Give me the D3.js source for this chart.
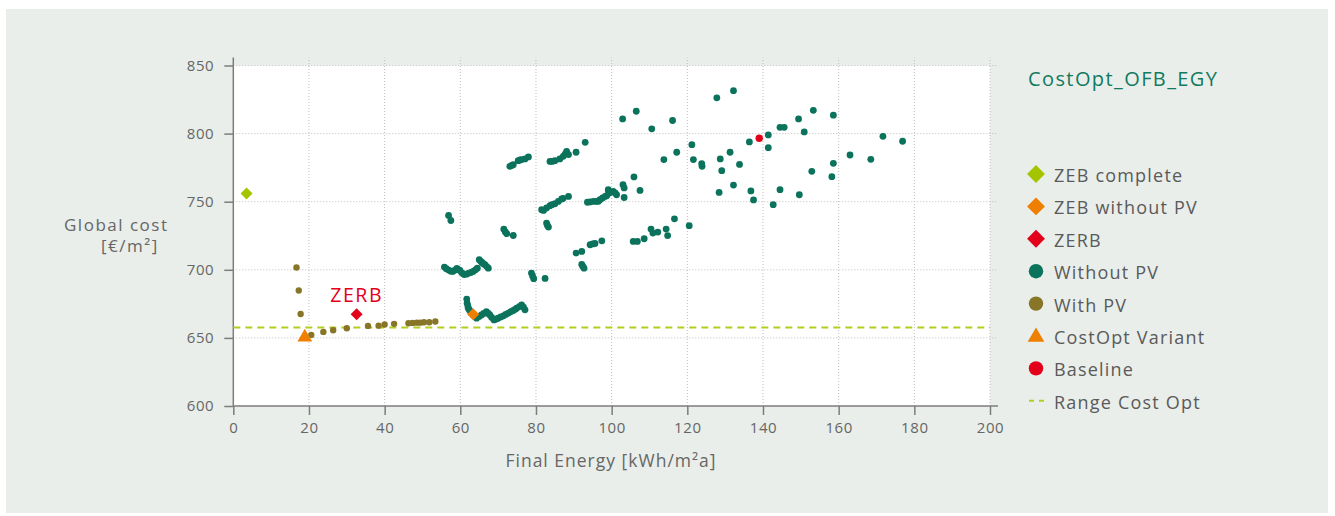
<!DOCTYPE html>
<html>
<head>
<meta charset="utf-8">
<script src="https://cdn.jsdelivr.net/npm/d3@7"></script>
<style>
  html, body { margin: 0; padding: 0; background: #ffffff; }
  svg { display: block; }
  text { font-family: "Open Sans", "Noto Sans", sans-serif; }
</style>
</head>
<body>
<svg id="chart" width="1335" height="516"></svg>
<script>
// Final energy [kWh/m²a] and global cost [€/m²] per variant
const withoutPV = [
  [56.9,739.9],[57.5,736.2],
  [55.8,702.0],[56.3,700.8],[56.9,699.8],[57.5,699.0],[58.0,698.8],[58.6,699.8],[59.1,701.0],[59.5,700.2],
  [59.9,699.5],[60.4,697.8],[61.0,696.5],[61.6,696.8],[62.1,697.4],[62.8,698.0],[63.4,698.8],[64.0,700.0],
  [64.5,701.2],[65.0,707.4],[65.4,706.2],[65.7,705.4],[66.1,704.5],[66.5,703.7],[67.0,702.4],[67.4,701.2],
  [61.7,678.5],[61.8,675.5],[62.0,673.5],[62.1,671.8],[62.4,670.5],[62.7,669.3],[63.0,668.0],[63.4,666.9],
  [63.9,665.6],[64.3,664.5],[65.0,665.8],[65.6,666.9],[66.2,668.0],[66.9,669.3],[67.4,668.0],[67.8,666.9],
  [68.3,665.0],[68.9,663.2],[69.5,663.8],[70.0,664.5],[70.7,665.4],[71.4,666.2],[72.0,667.2],[72.7,668.2],
  [73.3,669.2],[74.0,670.1],[74.5,671.0],[74.9,671.8],[75.6,673.0],[76.2,674.3],[76.7,672.5],[77.1,670.6],
  [78.8,697.6],[79.1,695.5],[79.4,693.5],[82.4,693.7],
  [71.5,729.8],[71.9,727.8],[72.3,726.5],[74.0,725.2],
  [73.1,776.0],[73.6,776.6],[74.0,777.2],[75.3,780.1],[75.8,780.6],[76.2,780.9],[77.1,781.4],[78.0,782.9],
  [81.5,744.1],[82.0,743.6],[82.8,745.4],[83.7,747.1],[84.2,747.8],[85.0,748.5],[85.9,750.2],[86.8,752.0],
  [87.2,752.5],[88.6,753.9],
  [82.8,734.3],[83.0,732.8],[83.3,731.4],
  [83.7,779.6],[84.3,779.6],[85.0,780.1],[86.3,781.4],[87.2,783.3],[87.7,785.0],[88.1,787.0],[88.6,784.6],
  [90.6,786.3],[93.0,793.6],
  [90.6,712.3],[92.1,713.5],[94.3,718.4],[95.0,719.0],[95.6,719.3],[97.4,721.3],
  [92.1,703.9],[92.4,702.5],[92.7,701.2],
  [93.6,749.6],[94.3,749.8],[95.2,750.2],[96.1,750.2],[96.5,750.4],[96.9,751.5],[97.6,752.7],[98.3,753.9],
  [98.7,754.4],[99.1,758.8],[99.2,757.5],[99.4,756.4],[100.4,757.6],[100.9,756.4],[101.3,755.1],[103.0,762.5],
  [103.3,760.1],[103.3,753.1],[105.9,768.2],[107.5,758.3],
  [102.9,810.8],[106.5,816.4],[110.6,803.5],[116.1,809.6],
  [105.7,720.8],[106.8,720.8],[108.6,722.8],[110.4,729.9],[110.9,727.0],[112.2,727.7],[114.4,729.9],[114.8,725.1],
  [116.6,737.4],[120.5,732.4],
  [113.8,780.9],[117.2,786.3],[121.2,791.9],[121.6,780.9],[123.8,777.9],[123.9,776.0],
  [127.8,826.3],[132.2,831.5],[128.7,781.4],[131.3,786.3],[129.1,772.8],[133.8,777.4],[132.2,762.2],[128.4,756.8],
  [136.4,793.9],[136.8,757.9],[137.5,751.3],[141.4,799.0],[141.4,789.7],[144.5,804.6],[145.6,804.6],[149.4,810.8],
  [150.9,801.2],[153.3,817.1],[158.6,813.5],[171.7,798.0],[176.9,794.4],[163.0,784.3],[168.5,781.1],[158.6,778.2],
  [152.9,772.3],[158.2,768.4],[144.5,758.8],[149.6,755.1],[142.7,747.8]
];
const withPV = [
  [16.7,701.7],[17.3,684.8],[17.8,667.6],[20.6,652.2],[23.8,654.4],[26.4,655.6],[30.0,657.1],[35.6,658.8],
  [38.4,659.0],[40.0,659.8],[42.5,660.3],[46.3,660.8],[47.4,661.0],[48.5,661.2],[49.4,661.2],[50.4,661.5],
  [51.8,661.5],[53.4,662.0]
];
const zebComplete = [[3.5,756.0]];
const zebWithoutPV = [[63.4,667.4]];
const zerb = [[32.6,667.4]];
const costOptVariant = [[18.9,650.5]];
const baseline = [[139.0,796.6]];
const rangeCostOpt = 657.6;

const xTicks = [0,20,40,60,80,100,120,140,160,180,200];
const yTicks = [600,650,700,750,800,850];
const legendLabels = ["ZEB complete","ZEB without PV","ZERB","Without PV","With PV","CostOpt Variant","Baseline","Range Cost Opt"];
const chartTitle = "CostOpt_OFB_EGY";

const C = {
  panel: "#e9eeea",
  teal: "#0b735b",
  olive: "#877628",
  lime: "#a5c400",
  orange: "#ee7f00",
  red: "#e2001a",
  dash: "#b2cf1d",
  axis: "#7d7d7d",
  grid: "#bdbdbd",
  text: "#666666"
};

const svg = d3.select("#chart");
svg.append("rect").attr("x",6).attr("y",9).attr("width",1322).attr("height",504).attr("fill",C.panel);

const x = d3.scaleLinear().domain([0,200]).range([233.3,990]);
const y = d3.scaleLinear().domain([600,850]).range([406,65.5]);
const ext = 8;

// plot background
svg.append("rect")
  .attr("x",x(0)).attr("y",y(850))
  .attr("width",x(200)-x(0)).attr("height",y(600)-y(850))
  .attr("fill","#ffffff");

// dotted grid
const grid = svg.append("g");
grid.selectAll("line.gx").data(xTicks.slice(1)).join("line")
  .attr("x1",d=>x(d)).attr("x2",d=>x(d))
  .attr("y1",y(600)).attr("y2",y(850)-ext)
  .attr("stroke",C.grid).attr("stroke-width",1).attr("stroke-dasharray","1,2");
grid.selectAll("line.gy").data(yTicks.slice(1)).join("line")
  .attr("y1",d=>y(d)).attr("y2",d=>y(d))
  .attr("x1",x(0)).attr("x2",x(200)+ext)
  .attr("stroke",C.grid).attr("stroke-width",1).attr("stroke-dasharray","1,2");

// axes
const xAxis = svg.append("g").attr("transform",`translate(0,${y(600)})`)
  .call(d3.axisBottom(x).tickValues(xTicks).tickSize(9).tickPadding(7.5));
const yAxis = svg.append("g").attr("transform",`translate(${x(0)},0)`)
  .call(d3.axisLeft(y).tickValues(yTicks).tickSize(9).tickPadding(10));
[xAxis,yAxis].forEach(g=>{
  g.select(".domain").remove();
  g.selectAll(".tick line").attr("stroke",C.axis).attr("stroke-width",1.5);
  g.selectAll(".tick text").attr("fill",C.text).attr("font-size",15)
    .attr("font-family","'Open Sans', sans-serif").style("letter-spacing","0.6px");
});
svg.append("line").attr("x1",x(0)).attr("x2",x(200)+ext).attr("y1",y(600)).attr("y2",y(600))
  .attr("stroke",C.axis).attr("stroke-width",1.5);
svg.append("line").attr("x1",x(0)).attr("x2",x(0)).attr("y1",y(600)).attr("y2",y(850)-ext)
  .attr("stroke",C.axis).attr("stroke-width",1.5);

// axis titles
svg.append("text").attr("x",611).attr("y",467).attr("text-anchor","middle")
  .attr("fill",C.text).attr("font-size",17.5).style("letter-spacing","1px")
  .text("Final Energy [kWh/m²a]");
svg.append("text").attr("x",64).attr("y",231)
  .attr("fill",C.text).attr("font-size",17).style("letter-spacing","1.5px")
  .text("Global cost");
svg.append("text").attr("x",101).attr("y",252)
  .attr("fill",C.text).attr("font-size",17).style("letter-spacing","1.5px")
  .text("[€/m²]");

// range of cost-optimal solutions
svg.append("line").attr("x1",x(0)).attr("x2",x(200))
  .attr("y1",y(rangeCostOpt)).attr("y2",y(rangeCostOpt))
  .attr("stroke",C.dash).attr("stroke-width",2).attr("stroke-dasharray","7,5");

const marks = svg.append("g");
const diamond = d3.symbol().type(d3.symbolSquare).size(72);
const triangle = d3.symbol().type(d3.symbolTriangle).size(95);

marks.append("g").selectAll("circle").data(withoutPV).join("circle")
  .attr("cx",d=>x(d[0])).attr("cy",d=>y(d[1])).attr("r",3.4).attr("fill",C.teal);
marks.append("g").selectAll("circle").data(withPV).join("circle")
  .attr("cx",d=>x(d[0])).attr("cy",d=>y(d[1])).attr("r",3.2).attr("fill",C.olive);
marks.append("g").selectAll("circle").data(baseline).join("circle")
  .attr("cx",d=>x(d[0])).attr("cy",d=>y(d[1])).attr("r",3.7).attr("fill",C.red);

function diamonds(data, color){
  marks.append("g").selectAll("path").data(data).join("path")
    .attr("d",diamond)
    .attr("transform",d=>`translate(${x(d[0])},${y(d[1])}) rotate(45)`)
    .attr("fill",color);
}
diamonds(zebComplete,C.lime);
diamonds(zerb,C.red);
diamonds(zebWithoutPV,C.orange);
marks.append("g").selectAll("path").data(costOptVariant).join("path")
  .attr("d",triangle)
  .attr("transform",d=>`translate(${x(d[0])},${y(d[1])})`)
  .attr("fill",C.orange);

// label for the ZERB point
svg.append("text").attr("x",x(zerb[0][0])).attr("y",y(zerb[0][1])-12)
  .attr("text-anchor","middle").attr("fill",C.red).attr("font-size",19.5)
  .style("letter-spacing","1.6px").text("ZERB");

// title and legend
svg.append("text").attr("x",1028).attr("y",86).attr("fill","#127a5f")
  .attr("font-size",20).style("letter-spacing","1.4px").text(chartTitle);

const legendMarks = [
  {kind:"diamond",color:C.lime},
  {kind:"diamond",color:C.orange},
  {kind:"diamond",color:C.red},
  {kind:"circle",color:C.teal},
  {kind:"circle",color:C.olive},
  {kind:"triangle",color:C.orange},
  {kind:"circle",color:C.red},
  {kind:"dash",color:C.dash}
];
const lg = svg.append("g");
const item = lg.selectAll("g").data(legendLabels).join("g")
  .attr("transform",(d,i)=>`translate(1036,${174 + i*32.4})`);
item.each(function(d,i){
  const g = d3.select(this);
  const m = legendMarks[i];
  if (m.kind==="diamond") {
    g.append("path").attr("d",d3.symbol().type(d3.symbolSquare).size(160))
      .attr("transform","rotate(45)").attr("fill",m.color);
  } else if (m.kind==="circle") {
    g.append("circle").attr("r",7.2).attr("fill",m.color);
  } else if (m.kind==="triangle") {
    g.append("path").attr("d",d3.symbol().type(d3.symbolTriangle).size(120))
      .attr("transform","translate(0,1)").attr("fill",m.color);
  } else {
    g.append("line").attr("x1",-7).attr("x2",8).attr("y1",0).attr("y2",0)
      .attr("stroke",m.color).attr("stroke-width",2).attr("stroke-dasharray","5,5");
  }
  g.append("text").attr("x",18).attr("y",8).attr("fill","#5a5a5a")
    .attr("font-size",18).style("letter-spacing","1.2px").text(d);
});
</script>
</body>
</html>
